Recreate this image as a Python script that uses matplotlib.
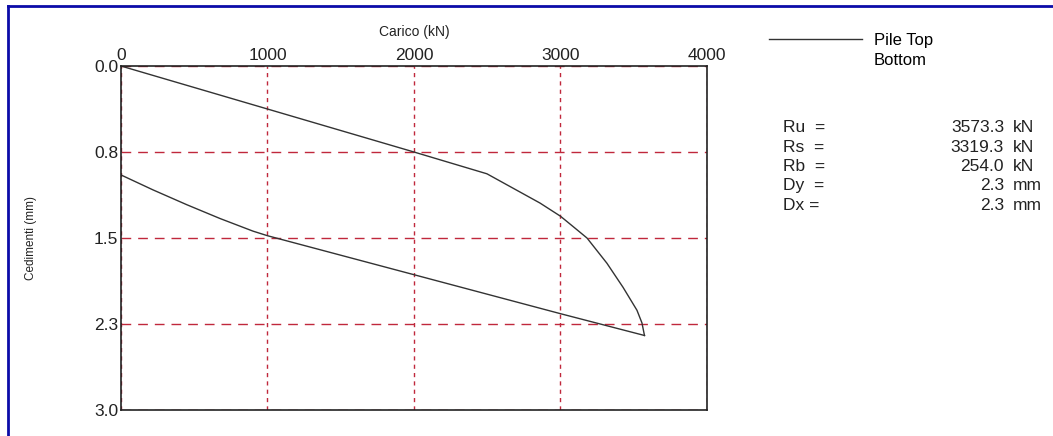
import matplotlib
matplotlib.use("Agg")
import matplotlib.pyplot as plt
from matplotlib.lines import Line2D

plt.rcParams['font.family'] = ['Liberation Sans', 'DejaVu Sans']

# load (kN) vs settlement (mm)
top_load = [0, 1000, 2000, 2498, 2860, 3000, 3086, 3181, 3317, 3427, 3522, 3556, 3573.3]
top_settl = [0, 0.375, 0.75, 0.94, 1.195, 1.31, 1.40, 1.50, 1.72, 1.93, 2.13, 2.24, 2.35]
bot_load = [0, 218, 450, 676, 901, 1000, 2000, 3000, 3573.3]
bot_settl = [0.95, 1.08, 1.21, 1.33, 1.44, 1.48, 1.82, 2.16, 2.35]

xticks = [0, 1000, 2000, 3000, 4000]
yticks = [0, 0.75, 1.5, 2.25, 3.0]
ytick_labels = ['0.0', '0.8', '1.5', '2.3', '3.0']

stat_names = ['Ru  =', 'Rs  =', 'Rb  =', 'Dy  =', 'Dx =']
stat_values = ['3573.3', '3319.3', '254.0', '2.3', '2.3']
stat_units = ['kN', 'kN', 'kN', 'mm', 'mm']

fig = plt.figure(figsize=(10.53, 4.36), dpi=100)
ax = fig.add_axes([0.1149, 0.0596, 0.5565, 0.789])

line_top, = ax.plot(top_load, top_settl, color='#333333', lw=1.0, label='Pile Top')
ax.plot(bot_load, bot_settl, color='#333333', lw=1.0)

ax.set_xlim(0, 4000)
ax.set_ylim(3.0, 0)
ax.set_xticks(xticks)
ax.set_yticks(yticks)
ax.set_yticklabels(ytick_labels)
ax.xaxis.tick_top()
ax.xaxis.set_label_position('top')
ax.tick_params(length=0, labelsize=12.5, colors='#222222', pad=2)
ax.set_xlabel('Carico (kN)', fontsize=10, labelpad=9, color='#222222')
ax.set_ylabel('Cedimenti (mm)', fontsize=8.5, labelpad=41, color='#222222')

ax.xaxis.grid(True, color='#c0283c', linestyle=(0, (3, 3)), lw=1.0)
ax.yaxis.grid(True, color='#c0283c', linestyle=(0, (7, 5)), lw=1.0)
for s in ax.spines.values():
    s.set_color('#222222')
    s.set_linewidth(1.2)

# legend: second entry has no visible line
blank = Line2D([], [], color='none')
fig.legend([line_top, blank], ['Pile Top', 'Bottom'], loc='upper left',
           bbox_to_anchor=(0.730, 0.925), frameon=False, fontsize=12,
           handlelength=5.6, handletextpad=0.7, labelspacing=0.3,
           borderaxespad=0, borderpad=0)

# results block
for i in range(len(stat_names)):
    y = 1 - (128 + 19.3 * i) / 436
    fig.text(783 / 1053, y, stat_names[i], fontsize=12.5, va='center', color='#222222')
    fig.text(1004 / 1053, y, stat_values[i], fontsize=12.5, va='center', ha='right', color='#222222')
    fig.text(1013 / 1053, y, stat_units[i], fontsize=12.5, va='center', color='#222222')

# blue frame on top and left
fig.add_artist(Line2D([8 / 1053, 1], [1 - 6 / 436, 1 - 6 / 436], color='#0c0ca8', lw=2))
fig.add_artist(Line2D([8 / 1053, 8 / 1053], [0, 1 - 6 / 436], color='#0c0ca8', lw=2))

fig.savefig('out.png', dpi=100)
